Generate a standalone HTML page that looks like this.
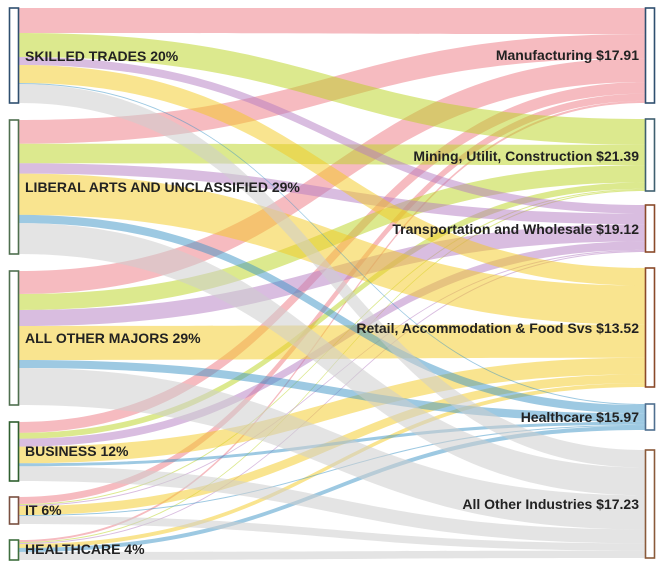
<!DOCTYPE html>
<html><head><meta charset="utf-8"><style>
html,body{margin:0;padding:0;background:#fff;}
svg{display:block;}
text{font-family:"Liberation Sans",Arial,sans-serif;font-weight:bold;font-size:14px;fill:#222;}
</style></head><body>
<svg id="s" width="664" height="568" xmlns="http://www.w3.org/2000/svg">
<g id="links"></g><g id="nodes"></g><g id="labels">
<text x="25" y="61">SKILLED TRADES 20%</text>
<text x="25" y="192">LIBERAL ARTS AND UNCLASSIFIED 29%</text>
<text x="25" y="343">ALL OTHER MAJORS 29%</text>
<text x="25" y="456">BUSINESS 12%</text>
<text x="25" y="515">IT 6%</text>
<text x="25" y="554">HEALTHCARE 4%</text>
<text x="639" y="60" text-anchor="end">Manufacturing $17.91</text>
<text x="639" y="161" text-anchor="end">Mining, Utilit, Construction $21.39</text>
<text x="639" y="234" text-anchor="end">Transportation and Wholesale $19.12</text>
<text x="639" y="333" text-anchor="end">Retail, Accommodation &amp; Food Svs $13.52</text>
<text x="639" y="422" text-anchor="end">Healthcare $15.97</text>
<text x="639" y="509" text-anchor="end">All Other Industries $17.23</text>
</g></svg>
<script>
var src=[[8,103,'#2f4f6f'],[120,254,'#4f6f4f'],[271,405,'#4f6f4f'],[422,481,'#2f5f2f'],[497,524,'#7a5040'],[540,560,'#3f6f3f']];
var tgt=[[8,103,'#2f4f6f'],[119,191,'#3f5f6f'],[205,252,'#8a4a2a'],[268,387,'#8a4a2a'],[404,430,'#4f6f8f'],[450,558,'#8a5a3a']];
var W=[[25,24,8,18,1,19],[23,19,10,40,8,30],[23,16,16,34,8,37],[11,6,8,17,3,15],[7,1,1,9,1,8],[2,1,1,4,4,8]];
var col=['rgba(238,120,130,0.5)','rgba(185,211,30,0.5)','rgba(179,123,193,0.5)','rgba(243,201,31,0.5)','rgba(59,147,197,0.5)','rgba(205,205,205,0.55)'];
var ns='http://www.w3.org/2000/svg',L=document.getElementById('links'),N=document.getElementById('nodes');
var x0=19,x1=645,xm=(x0+x1)/2;
var sy=[],ty=[];
for(var i=0;i<6;i++){var s=0;for(var j=0;j<6;j++)s+=W[i][j];var k=(src[i][1]-src[i][0])/s,y=src[i][0];sy[i]=[];for(var j=0;j<6;j++){sy[i][j]=[y,y+W[i][j]*k];y+=W[i][j]*k;}}
for(var j=0;j<6;j++){var s=0;for(var i=0;i<6;i++)s+=W[i][j];var k=(tgt[j][1]-tgt[j][0])/s,y=tgt[j][0];for(var i=0;i<6;i++){ty[i]=ty[i]||[];ty[i][j]=[y,y+W[i][j]*k];y+=W[i][j]*k;}}
for(var j=0;j<6;j++)for(var i=0;i<6;i++){
var a=sy[i][j],b=ty[i][j];
var d='M'+x0+','+a[0]+'C'+xm+','+a[0]+' '+xm+','+b[0]+' '+x1+','+b[0]+'L'+x1+','+b[1]+'C'+xm+','+b[1]+' '+xm+','+a[1]+' '+x0+','+a[1]+'Z';
var p=document.createElementNS(ns,'path');p.setAttribute('d',d);p.setAttribute('fill',col[j]);L.appendChild(p);}
function rect(x,n){var r=document.createElementNS(ns,'rect');r.setAttribute('x',x);r.setAttribute('y',n[0]);r.setAttribute('width',9);r.setAttribute('height',n[1]-n[0]);r.setAttribute('fill','#fff');r.setAttribute('stroke',n[2]);r.setAttribute('stroke-width',1.6);N.appendChild(r);}
src.forEach(function(n){rect(9.5,n)});tgt.forEach(function(n){rect(645.5,n)});
</script>
</body></html>
